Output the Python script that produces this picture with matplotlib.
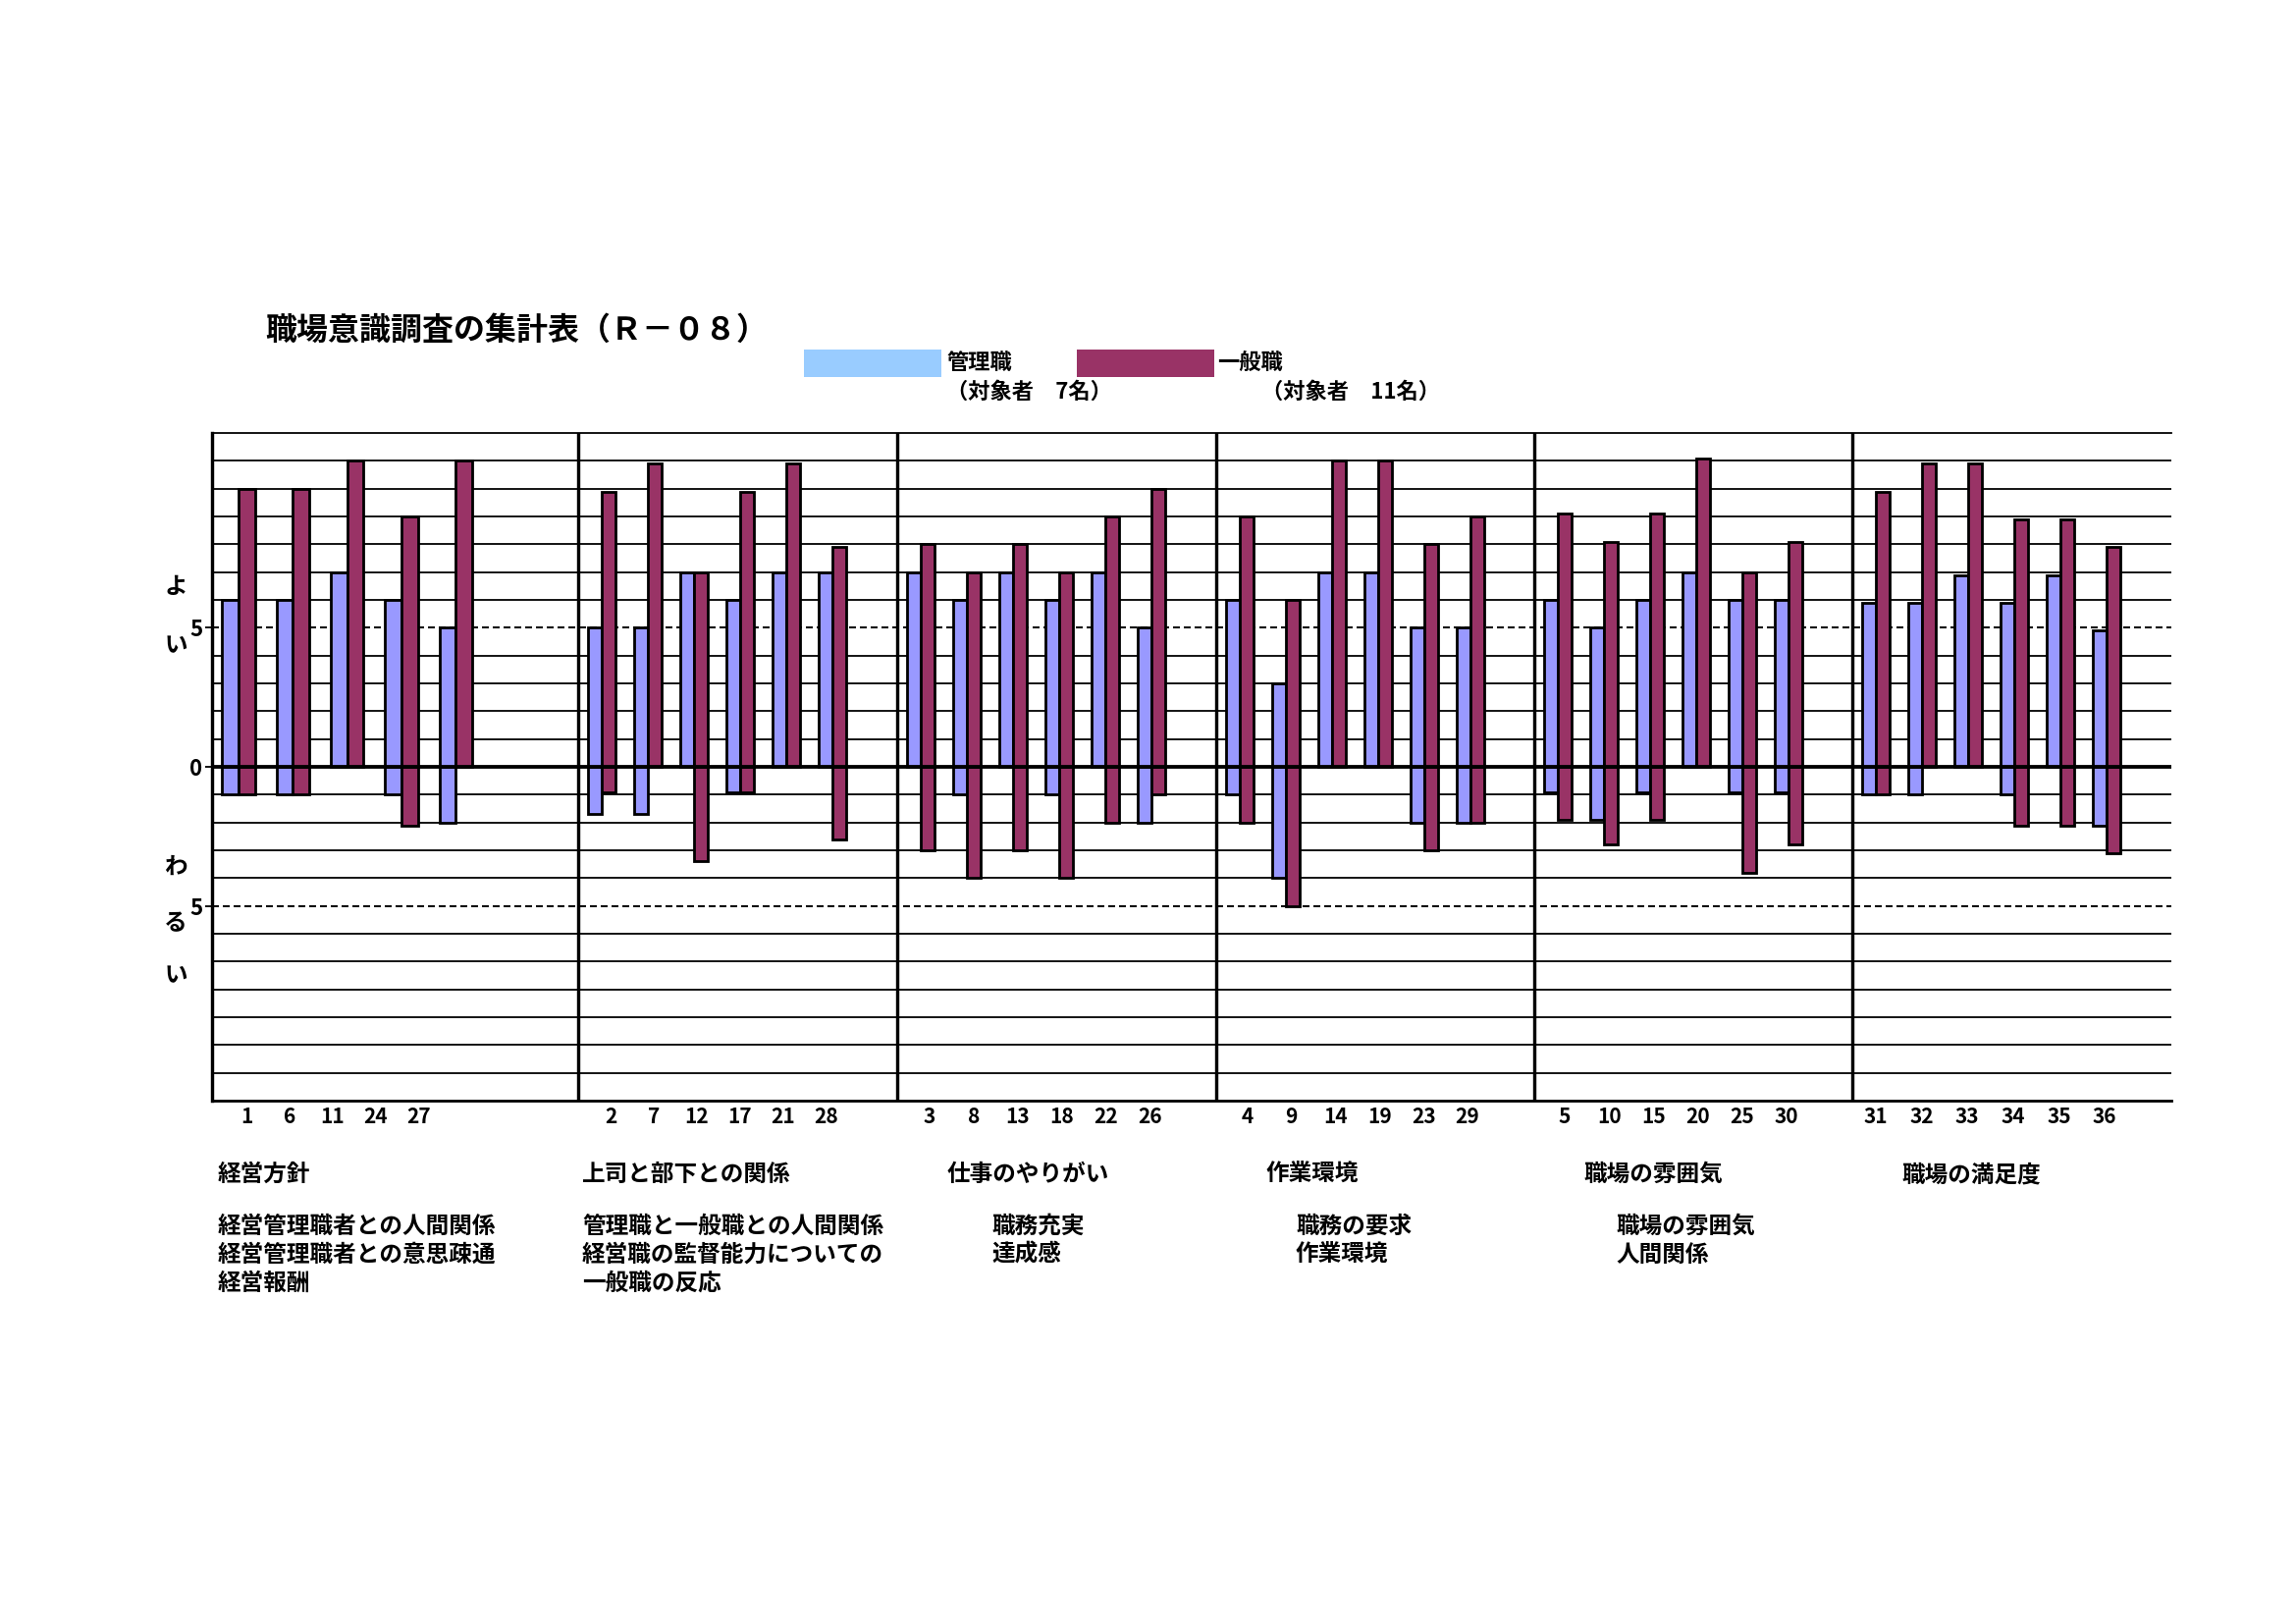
import matplotlib
matplotlib.use("Agg")
import matplotlib.pyplot as plt
from matplotlib.patches import Rectangle

plt.rcParams['font.family'] = ['Noto Sans CJK JP', 'DejaVu Sans']
plt.rcParams['font.weight'] = 'bold'

# ─── data ─────────────────────────────────────────────────────────────────────
TITLE = "職場意識調査の集計表（Ｒ－０８）"

question_no = [
    [1, 6, 11, 24, 27],
    [2, 7, 12, 17, 21, 28],
    [3, 8, 13, 18, 22, 26],
    [4, 9, 14, 19, 23, 29],
    [5, 10, 15, 20, 25, 30],
    [31, 32, 33, 34, 35, 36],
]

# 管理職 (7名)
mgr_good = [
    [6, 6, 7, 6, 5],
    [5, 5, 7, 6, 7, 7],
    [7, 6, 7, 6, 7, 5],
    [6, 3, 7, 7, 5, 5],
    [6, 5, 6, 7, 6, 6],
    [5.9, 5.9, 6.9, 5.9, 6.9, 4.9],
]
mgr_bad = [
    [-1, -1, 0, -1, -2],
    [-1.7, -1.7, 0, -0.9, 0, 0],
    [0, -1, 0, -1, 0, -2],
    [-1, -4, 0, 0, -2, -2],
    [-0.9, -1.9, -0.9, 0, -0.9, -0.9],
    [-1, -1, 0, -1, 0, -2.1],
]
# 一般職 (11名)
gen_good = [
    [10, 10, 11, 9, 11],
    [9.9, 10.9, 7, 9.9, 10.9, 7.9],
    [8, 7, 8, 7, 9, 10],
    [9, 6, 11, 11, 8, 9],
    [9.1, 8.1, 9.1, 11.1, 7, 8.1],
    [9.9, 10.9, 10.9, 8.9, 8.9, 7.9],
]
gen_bad = [
    [-1, -1, 0, -2.1, 0],
    [-0.9, 0, -3.4, -0.9, 0, -2.6],
    [-3, -4, -3, -4, -2, -1],
    [-2, -5, 0, 0, -3, -2],
    [-1.9, -2.8, -1.9, 0, -3.8, -2.8],
    [-1, 0, 0, -2.1, -2.1, -3.1],
]

group_names = ["経営方針", "上司と部下との関係", "仕事のやりがい",
               "作業環境", "職場の雰囲気", "職場の満足度"]
group_notes = [
    ["経営管理職者との人間関係", "経営管理職者との意思疎通", "経営報酬"],
    ["管理職と一般職との人間関係", "経営職の監督能力についての", "一般職の反応"],
    ["職務充実", "達成感"],
    ["職務の要求", "作業環境"],
    ["職場の雰囲気", "人間関係"],
    [],
]

# ─── layout (pixels of the 2339x1653 page) ───────────────────────────────────
W, H, DPI = 2339, 1653, 100
AX_L, AX_R, AX_T, AX_B = 216, 2212, 441, 1121
GROUP_EDGES = [216, 589, 914, 1239, 1563, 1887]
BAR_STEP = [55.3, 47, 47, 47, 47, 47]
BAR_W = [16.7, 14, 14, 14, 14, 14]
BAR_OFF = 10.5
LABEL_START = [251, 622, 947, 1271, 1594, 1911]
LABEL_STEP = [44, 44, 45, 44.8, 45.2, 46.6]
NAME_X = [222, 593, 965, 1289, 1613, 1937]
NOTE_X = [222, 593, 1010, 1320, 1646, 1962]

BLUE = "#9999FF"
RED = "#993366"
LEG_BLUE = "#99CCFF"


def fx(px):
    return px / W


def fy(py):
    return 1 - py / H


def lw(px):
    return px * 72 / DPI


fig = plt.figure(figsize=(W / DPI, H / DPI), dpi=DPI)
ax = fig.add_axes([fx(AX_L), fy(AX_B), fx(AX_R) - fx(AX_L), fy(AX_T) - fy(AX_B)])
ax.set_xlim(AX_L, AX_R)
ax.set_ylim(-12, 12)

# horizontal rules
for v in range(-11, 12):
    if v == 0:
        continue
    if abs(v) == 5:
        ax.axhline(v, color="black", lw=lw(2.0), ls=(0, (3.5, 2)), zorder=1)
    else:
        ax.axhline(v, color="black", lw=lw(1.8), zorder=1)
ax.axhline(0, color="black", lw=lw(3.8), zorder=5)

# bars
tick_pos, tick_lab = [], []
for g, nums in enumerate(question_no):
    xs = [GROUP_EDGES[g] + BAR_OFF + i * BAR_STEP[g] for i in range(len(nums))]
    xr = [x + BAR_W[g] for x in xs]
    kw = dict(align="edge", edgecolor="black", linewidth=lw(2.8), zorder=3)
    ax.bar(xs, mgr_good[g], width=BAR_W[g], color=BLUE, **kw)
    ax.bar(xs, mgr_bad[g], width=BAR_W[g], color=BLUE, **kw)
    ax.bar(xr, gen_good[g], width=BAR_W[g], color=RED, **kw)
    ax.bar(xr, gen_bad[g], width=BAR_W[g], color=RED, **kw)
    for i, n in enumerate(nums):
        tick_pos.append(LABEL_START[g] + i * LABEL_STEP[g])
        tick_lab.append(str(n))
    if g > 0:
        ax.axvline(GROUP_EDGES[g], color="black", lw=lw(3.4), zorder=6)

ax.set_xticks(tick_pos, tick_lab)
ax.tick_params(axis="x", length=0, pad=4, labelsize=15)
ax.set_yticks([5, 0, -5], ["5", "0", "5"])
ax.tick_params(axis="y", length=5, width=lw(1.8), pad=2, labelsize=16)

ax.spines["right"].set_visible(False)
ax.spines["top"].set_linewidth(lw(1.8))
ax.spines["left"].set_linewidth(lw(3.4))
ax.spines["bottom"].set_linewidth(lw(2.8))

# title
fig.text(fx(270), fy(337), TITLE, fontsize=23, fontweight="bold",
         ha="left", va="center")

# legend
fig.add_artist(Rectangle((fx(819), fy(384)), fx(959) - fx(819), fy(356) - fy(384),
                         transform=fig.transFigure, color=LEG_BLUE, lw=0))
fig.add_artist(Rectangle((fx(1097), fy(384)), fx(1237) - fx(1097), fy(356) - fy(384),
                         transform=fig.transFigure, color=RED, lw=0))
fig.text(fx(964), fy(369), "管理職", fontsize=16, ha="left", va="center")
fig.text(fx(964), fy(399), "（対象者　7名）", fontsize=16, ha="left", va="center")
fig.text(fx(1240), fy(369), "一般職", fontsize=16, ha="left", va="center")
fig.text(fx(1285), fy(399), "（対象者　11名）", fontsize=16, ha="left", va="center")

# vertical captions
for ch, y in [("よ", 598), ("い", 657), ("わ", 883), ("る", 940), ("い", 993)]:
    fig.text(fx(179), fy(y), ch, fontsize=17, ha="center", va="center")

# group captions
for g in range(len(group_names)):
    fig.text(fx(NAME_X[g]), fy(1196), group_names[g], fontsize=17,
             ha="left", va="center")
    for k, line in enumerate(group_notes[g]):
        fig.text(fx(NOTE_X[g]), fy(1249 + 29 * k), line, fontsize=17,
                 ha="left", va="center")

fig.savefig("out.png", dpi=DPI)
